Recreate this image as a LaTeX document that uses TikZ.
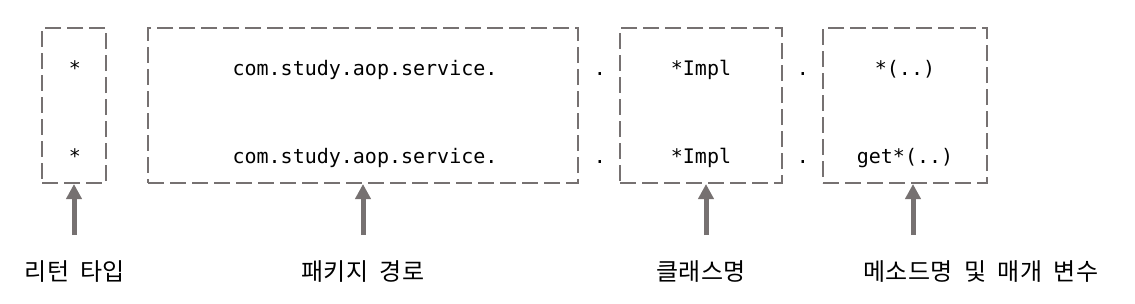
\documentclass[tikz,border=0pt]{standalone}
\usepackage{fontspec}
\usepackage{tikz}
\usetikzlibrary{arrows.meta,positioning}
\newfontfamily\codefont{DejaVu Sans Mono}
\newfontfamily\krfont[WordSpace=2.2]{Noto Sans CJK KR}
\definecolor{boxgray}{RGB}{118,113,113}
\tikzset{
  dbox/.style   = {rectangle, draw=boxgray, line width=2pt,
                   dash pattern=on 16pt off 6pt, inner sep=0pt,
                   minimum height=155pt},
  code/.style   = {font=\codefont\fontsize{20}{24}\selectfont,
                   inner sep=0pt, anchor=base},
  klabel/.style = {font=\krfont\fontsize{24}{28}\selectfont,
                   inner sep=0pt, anchor=base},
  uparr/.style  = {-{Triangle[length=15pt,width=15pt]}, line width=5pt,
                   draw=boxgray},
}

\begin{document}
\begin{tikzpicture}[x=1pt, y=-1pt]
\useasboundingbox (0,0) rectangle (1135,303);

%% Dashed boxes
\node[dbox, minimum width=64pt]  (box_ret) at (74,105.5)  {};
\node[dbox, minimum width=430pt] (box_pkg) at (363,105.5) {};
\node[dbox, minimum width=162pt] (box_cls) at (701,105.5) {};
\node[dbox, minimum width=164pt] (box_mth) at (905,105.5) {};

%% Row 1
\node[code] (ret_a) at (75,75)  {*};
\node[code] (pkg_a) at (365,75) {com.study.aop.service.};
\node[code] (dot_a) at (600,75) {.};
\node[code] (cls_a) at (701,75) {*Impl};
\node[code] (dot_b) at (803,75) {.};
\node[code] (mth_a) at (905,75) {*(..)};

%% Row 2
\node[code] (ret_b) at (75,163)  {*};
\node[code] (pkg_b) at (365,163) {com.study.aop.service.};
\node[code] (dot_c) at (600,163) {.};
\node[code] (cls_b) at (701,163) {*Impl};
\node[code] (dot_d) at (803,163) {.};
\node[code] (mth_b) at (905,163) {get*(..)};

%% Labels
\node[klabel] (lbl_ret) at (75,280)  {리턴 타입};
\node[klabel] (lbl_pkg) at (363,280) {패키지 경로};
\node[klabel] (lbl_cls) at (701,280) {클래스명};
\node[klabel] (lbl_mth) at (981,280) {메소드명 및 매개 변수};

%% Arrow tails
\coordinate (tail_ret) at (74,235);
\coordinate (tail_pkg) at (363,235);
\coordinate (tail_cls) at (706,235);
\coordinate (tail_mth) at (913,235);

%% Arrows
\draw[uparr] (tail_ret) -- (tail_ret |- box_ret.south);
\draw[uparr] (tail_pkg) -- (tail_pkg |- box_pkg.south);
\draw[uparr] (tail_cls) -- (tail_cls |- box_cls.south);
\draw[uparr] (tail_mth) -- (tail_mth |- box_mth.south);

\end{tikzpicture}
\end{document}
